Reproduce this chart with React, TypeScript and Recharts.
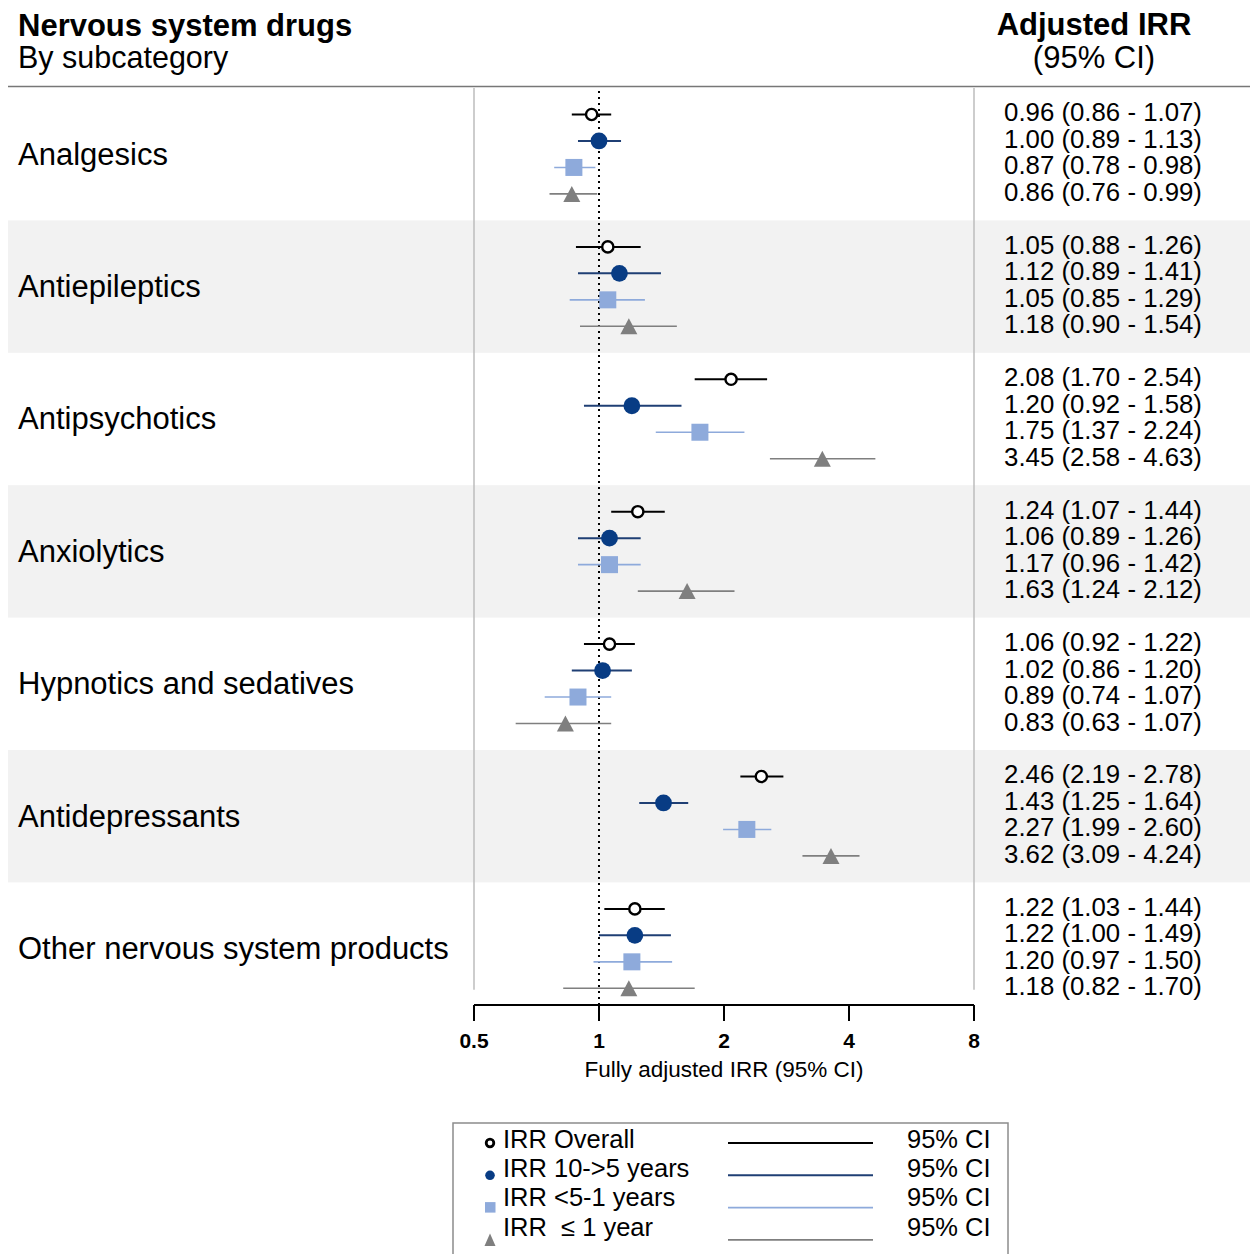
import React from 'react';
import { ScatterChart, Scatter, ErrorBar, XAxis, YAxis, ReferenceArea, ReferenceLine, Legend } from 'recharts';

const CATEGORIES = [
  'Analgesics',
  'Antiepileptics',
  'Antipsychotics',
  'Anxiolytics',
  'Hypnotics and sedatives',
  'Antidepressants',
  'Other nervous system products',
];

const SERIES_NAMES = ['IRR Overall', 'IRR 10->5 years', 'IRR <5-1 years', 'IRR  \u2264 1 year'];

// IRR and 95% CI per category, one array per series (as printed in the right column)
const IRR_OVERALL = [0.96, 1.05, 2.08, 1.24, 1.06, 2.46, 1.22];
const LOW_OVERALL = [0.86, 0.88, 1.70, 1.07, 0.92, 2.19, 1.03];
const HIGH_OVERALL = [1.07, 1.26, 2.54, 1.44, 1.22, 2.78, 1.44];

const IRR_10_5 = [1.00, 1.12, 1.20, 1.06, 1.02, 1.43, 1.22];
const LOW_10_5 = [0.89, 0.89, 0.92, 0.89, 0.86, 1.25, 1.00];
const HIGH_10_5 = [1.13, 1.41, 1.58, 1.26, 1.20, 1.64, 1.49];

const IRR_5_1 = [0.87, 1.05, 1.75, 1.17, 0.89, 2.27, 1.20];
const LOW_5_1 = [0.78, 0.85, 1.37, 0.96, 0.74, 1.99, 0.97];
const HIGH_5_1 = [0.98, 1.29, 2.24, 1.42, 1.07, 2.60, 1.50];

// the plotted <5-1 marker for Anxiolytics sits where the picture draws it
const PLOT_IRR_5_1 = [0.87, 1.05, 1.75, 1.06, 0.89, 2.27, 1.20];
const PLOT_LOW_5_1 = [0.78, 0.85, 1.37, 0.89, 0.74, 1.99, 0.97];
const PLOT_HIGH_5_1 = [0.98, 1.29, 2.24, 1.26, 1.07, 2.60, 1.50];

const IRR_LE1 = [0.86, 1.18, 3.45, 1.63, 0.83, 3.62, 1.18];
const LOW_LE1 = [0.76, 0.90, 2.58, 1.24, 0.63, 3.09, 0.82];
const HIGH_LE1 = [0.99, 1.54, 4.63, 2.12, 1.07, 4.24, 1.70];

const X_TICKS = [0.5, 1, 2, 4, 8];

const FONT = '"Liberation Sans", Arial, Helvetica, sans-serif';
const W = 1250;
const H = 1254;
const PLOT_TOP = 88;
const LEFT_W = 474;
const RIGHT_W = 276;
const SLOTS = 5; // rows per category block (4 estimates + spacing)
const Y_MAX = 34.63;
const FRAME_END = 34.05;

const NAVY = '#083c84';
const LIGHT = '#8eaadb';
const GRAY = '#7f7f7f';
const BAND = '#f2f2f2';

const slotOf = (g: number, i: number) => g * SLOTS + i + 1;

const HollowDot = (p: any) => (
  <circle cx={p.cx} cy={p.cy} r={5.6} fill="#fff" stroke="#000" strokeWidth={2.4} />
);
const NavyDot = (p: any) => <circle cx={p.cx} cy={p.cy} r={8.4} fill={NAVY} />;
const SquareMark = (p: any) => (
  <rect x={p.cx - 8.5} y={p.cy - 8.5} width={17} height={17} fill={LIGHT} />
);
const TriangleMark = (p: any) => (
  <polygon
    points={`${p.cx},${p.cy - 8} ${p.cx + 8.5},${p.cy + 8} ${p.cx - 8.5},${p.cy + 8}`}
    fill={GRAY}
  />
);

const SERIES = [
  { key: 'overall', name: SERIES_NAMES[0], irr: IRR_OVERALL, low: LOW_OVERALL, high: HIGH_OVERALL, plot: [IRR_OVERALL, LOW_OVERALL, HIGH_OVERALL], line: '#000000', lw: 2, shape: HollowDot },
  { key: 'y10', name: SERIES_NAMES[1], irr: IRR_10_5, low: LOW_10_5, high: HIGH_10_5, plot: [IRR_10_5, LOW_10_5, HIGH_10_5], line: '#1f3f74', lw: 2, shape: NavyDot },
  { key: 'y5', name: SERIES_NAMES[2], irr: IRR_5_1, low: LOW_5_1, high: HIGH_5_1, plot: [PLOT_IRR_5_1, PLOT_LOW_5_1, PLOT_HIGH_5_1], line: LIGHT, lw: 1.6, shape: SquareMark },
  { key: 'y1', name: SERIES_NAMES[3], irr: IRR_LE1, low: LOW_LE1, high: HIGH_LE1, plot: [IRR_LE1, LOW_LE1, HIGH_LE1], line: GRAY, lw: 1.6, shape: TriangleMark },
];

const seriesData = SERIES.map((s, si) => {
  const [irr, low, high] = s.plot;
  return irr.map((v, g) => ({
    irr: v,
    slot: slotOf(g, si),
    err: [v - low[g], high[g] - v],
  }));
});

const VALUE_LABELS = new Map<number, string>();
SERIES.forEach((s, si) =>
  s.irr.forEach((v, g) =>
    VALUE_LABELS.set(slotOf(g, si), `${v.toFixed(2)} (${s.low[g].toFixed(2)} - ${s.high[g].toFixed(2)})`)
  )
);

const CATEGORY_TICKS = CATEGORIES.map((_, g) => g * SLOTS + SLOTS / 2);
const VALUE_TICKS = Array.from(VALUE_LABELS.keys()).sort((a, b) => a - b);
const SHADED = CATEGORIES.map((_, g) => g).filter((g) => g % 2 === 1);

const CategoryTick = ({ x, y, payload }: any) => {
  const g = Math.round((payload.value - SLOTS / 2) / SLOTS);
  return (
    <text x={x - LEFT_W + 18} y={y} dominantBaseline="central" textAnchor="start" fontSize={31} fill="#000">
      {CATEGORIES[g]}
    </text>
  );
};

const ValueTick = ({ x, y, payload }: any) => (
  <text x={x + 129} y={y - 2} dominantBaseline="central" textAnchor="middle" fontSize={25.8} fill="#000">
    {VALUE_LABELS.get(payload.value)}
  </text>
);

const BandShape = (p: any) => <rect x={8} y={p.y} width={W - 8} height={p.height} fill={BAND} />;

const LegendBox = () => (
  <svg width={558} height={132} style={{ display: 'block', fontFamily: FONT }}>
    <rect x={1} y={1} width={555} height={150} fill="#fff" stroke="#8c8c8c" strokeWidth={1.5} />
    {SERIES.map((s, i) => {
      const ty = 17 + i * 29.2;
      const ly = 21 + i * 32.3;
      const mx = 38;
      let mark: React.ReactNode = null;
      if (i === 0) mark = <circle cx={mx} cy={ly} r={3.8} fill="#fff" stroke="#000" strokeWidth={2.8} />;
      if (i === 1) mark = <circle cx={mx} cy={ly} r={4.8} fill={NAVY} />;
      if (i === 2) mark = <rect x={mx - 5} y={ly - 5.5} width={10.5} height={10.5} fill={LIGHT} />;
      if (i === 3) mark = <polygon points={`${mx},${ly - 6.5} ${mx + 5.5},${ly + 6} ${mx - 5.5},${ly + 6}`} fill={GRAY} />;
      return (
        <g key={s.key}>
          {mark}
          <text x={51} y={ty} dominantBaseline="central" fontSize={25.5} fill="#000" style={{ whiteSpace: 'pre' }}>
            {s.name}
          </text>
          <line x1={276} x2={421} y1={ly} y2={ly} stroke={s.line} strokeWidth={s.lw} />
          <text x={455} y={ty} dominantBaseline="central" fontSize={25.5} fill="#000">
            95% CI
          </text>
        </g>
      );
    })}
  </svg>
);

export default function App() {
  return (
    <div
      style={{
        position: 'absolute',
        left: 0,
        top: 0,
        width: W,
        height: H,
        overflow: 'hidden',
        background: '#fff',
        fontFamily: FONT,
      }}
    >
      <ScatterChart width={W} height={H} margin={{ top: PLOT_TOP, right: 0, bottom: 169, left: 0 }}>
        {SHADED.map((g) => (
          <ReferenceArea
            key={g}
            yAxisId="cat"
            y1={g * SLOTS}
            y2={g * SLOTS + SLOTS}
            ifOverflow="visible"
            shape={BandShape}
          />
        ))}
        <XAxis
          dataKey="irr"
          type="number"
          scale="log"
          domain={[0.5, 8]}
          ticks={X_TICKS}
          allowDataOverflow
          interval={0}
          height={80}
          tickSize={16}
          tickMargin={12}
          axisLine={{ stroke: '#000', strokeWidth: 2 }}
          tickLine={{ stroke: '#000', strokeWidth: 2 }}
          tick={{ fontSize: 21, fontWeight: 'bold', fill: '#000' }}
          label={{ value: 'Fully adjusted IRR (95% CI)', position: 'insideBottom', offset: 8, fontSize: 22.5, fill: '#000' }}
        />
        <YAxis
          yAxisId="cat"
          dataKey="slot"
          type="number"
          orientation="left"
          reversed
          domain={[0, Y_MAX]}
          allowDataOverflow
          width={LEFT_W}
          ticks={CATEGORY_TICKS}
          interval={0}
          tickSize={0}
          tickMargin={0}
          axisLine={false}
          tickLine={false}
          tick={CategoryTick}
        />
        <YAxis
          yAxisId="val"
          dataKey="slot"
          type="number"
          orientation="right"
          reversed
          domain={[0, Y_MAX]}
          allowDataOverflow
          width={RIGHT_W}
          ticks={VALUE_TICKS}
          interval={0}
          tickSize={0}
          tickMargin={0}
          axisLine={false}
          tickLine={false}
          tick={ValueTick}
        />
        <ReferenceLine
          yAxisId="cat"
          segment={[{ x: 0.5, y: 0 }, { x: 0.5, y: FRAME_END }]}
          stroke="#bdbdbd"
          strokeWidth={1.5}
        />
        <ReferenceLine
          yAxisId="cat"
          segment={[{ x: 8, y: 0 }, { x: 8, y: FRAME_END }]}
          stroke="#bdbdbd"
          strokeWidth={1.5}
        />
        <ReferenceLine yAxisId="cat" x={1} stroke="#000" strokeWidth={2} strokeDasharray="2 4" />
        {SERIES.map((s, si) => (
          <Scatter
            key={s.key}
            name={s.name}
            yAxisId="cat"
            data={seriesData[si]}
            shape={s.shape}
            isAnimationActive={false}
          >
            <ErrorBar dataKey="err" direction="x" width={0} stroke={s.line} strokeWidth={s.lw} isAnimationActive={false} />
          </Scatter>
        ))}
        <Legend
          layout="vertical"
          align="center"
          verticalAlign="middle"
          wrapperStyle={{ left: 452, top: 1122, width: 558, height: 132 }}
          content={() => <LegendBox />}
        />
      </ScatterChart>
      <svg
        width={W}
        height={90}
        style={{ position: 'absolute', left: 0, top: 0, pointerEvents: 'none', fontFamily: FONT }}
      >
        <text x={18} y={36} fontSize={31} fontWeight="bold" fill="#000">
          Nervous system drugs
        </text>
        <text x={18} y={68} fontSize={30.5} fill="#000">
          By subcategory
        </text>
        <text x={1094} y={35} fontSize={31} fontWeight="bold" fill="#000" textAnchor="middle">
          Adjusted IRR
        </text>
        <text x={1094} y={68} fontSize={31} fill="#000" textAnchor="middle">
          (95% CI)
        </text>
        <line x1={8} x2={W} y1={86.5} y2={86.5} stroke="#777" strokeWidth={1.5} />
      </svg>
    </div>
  );
}
